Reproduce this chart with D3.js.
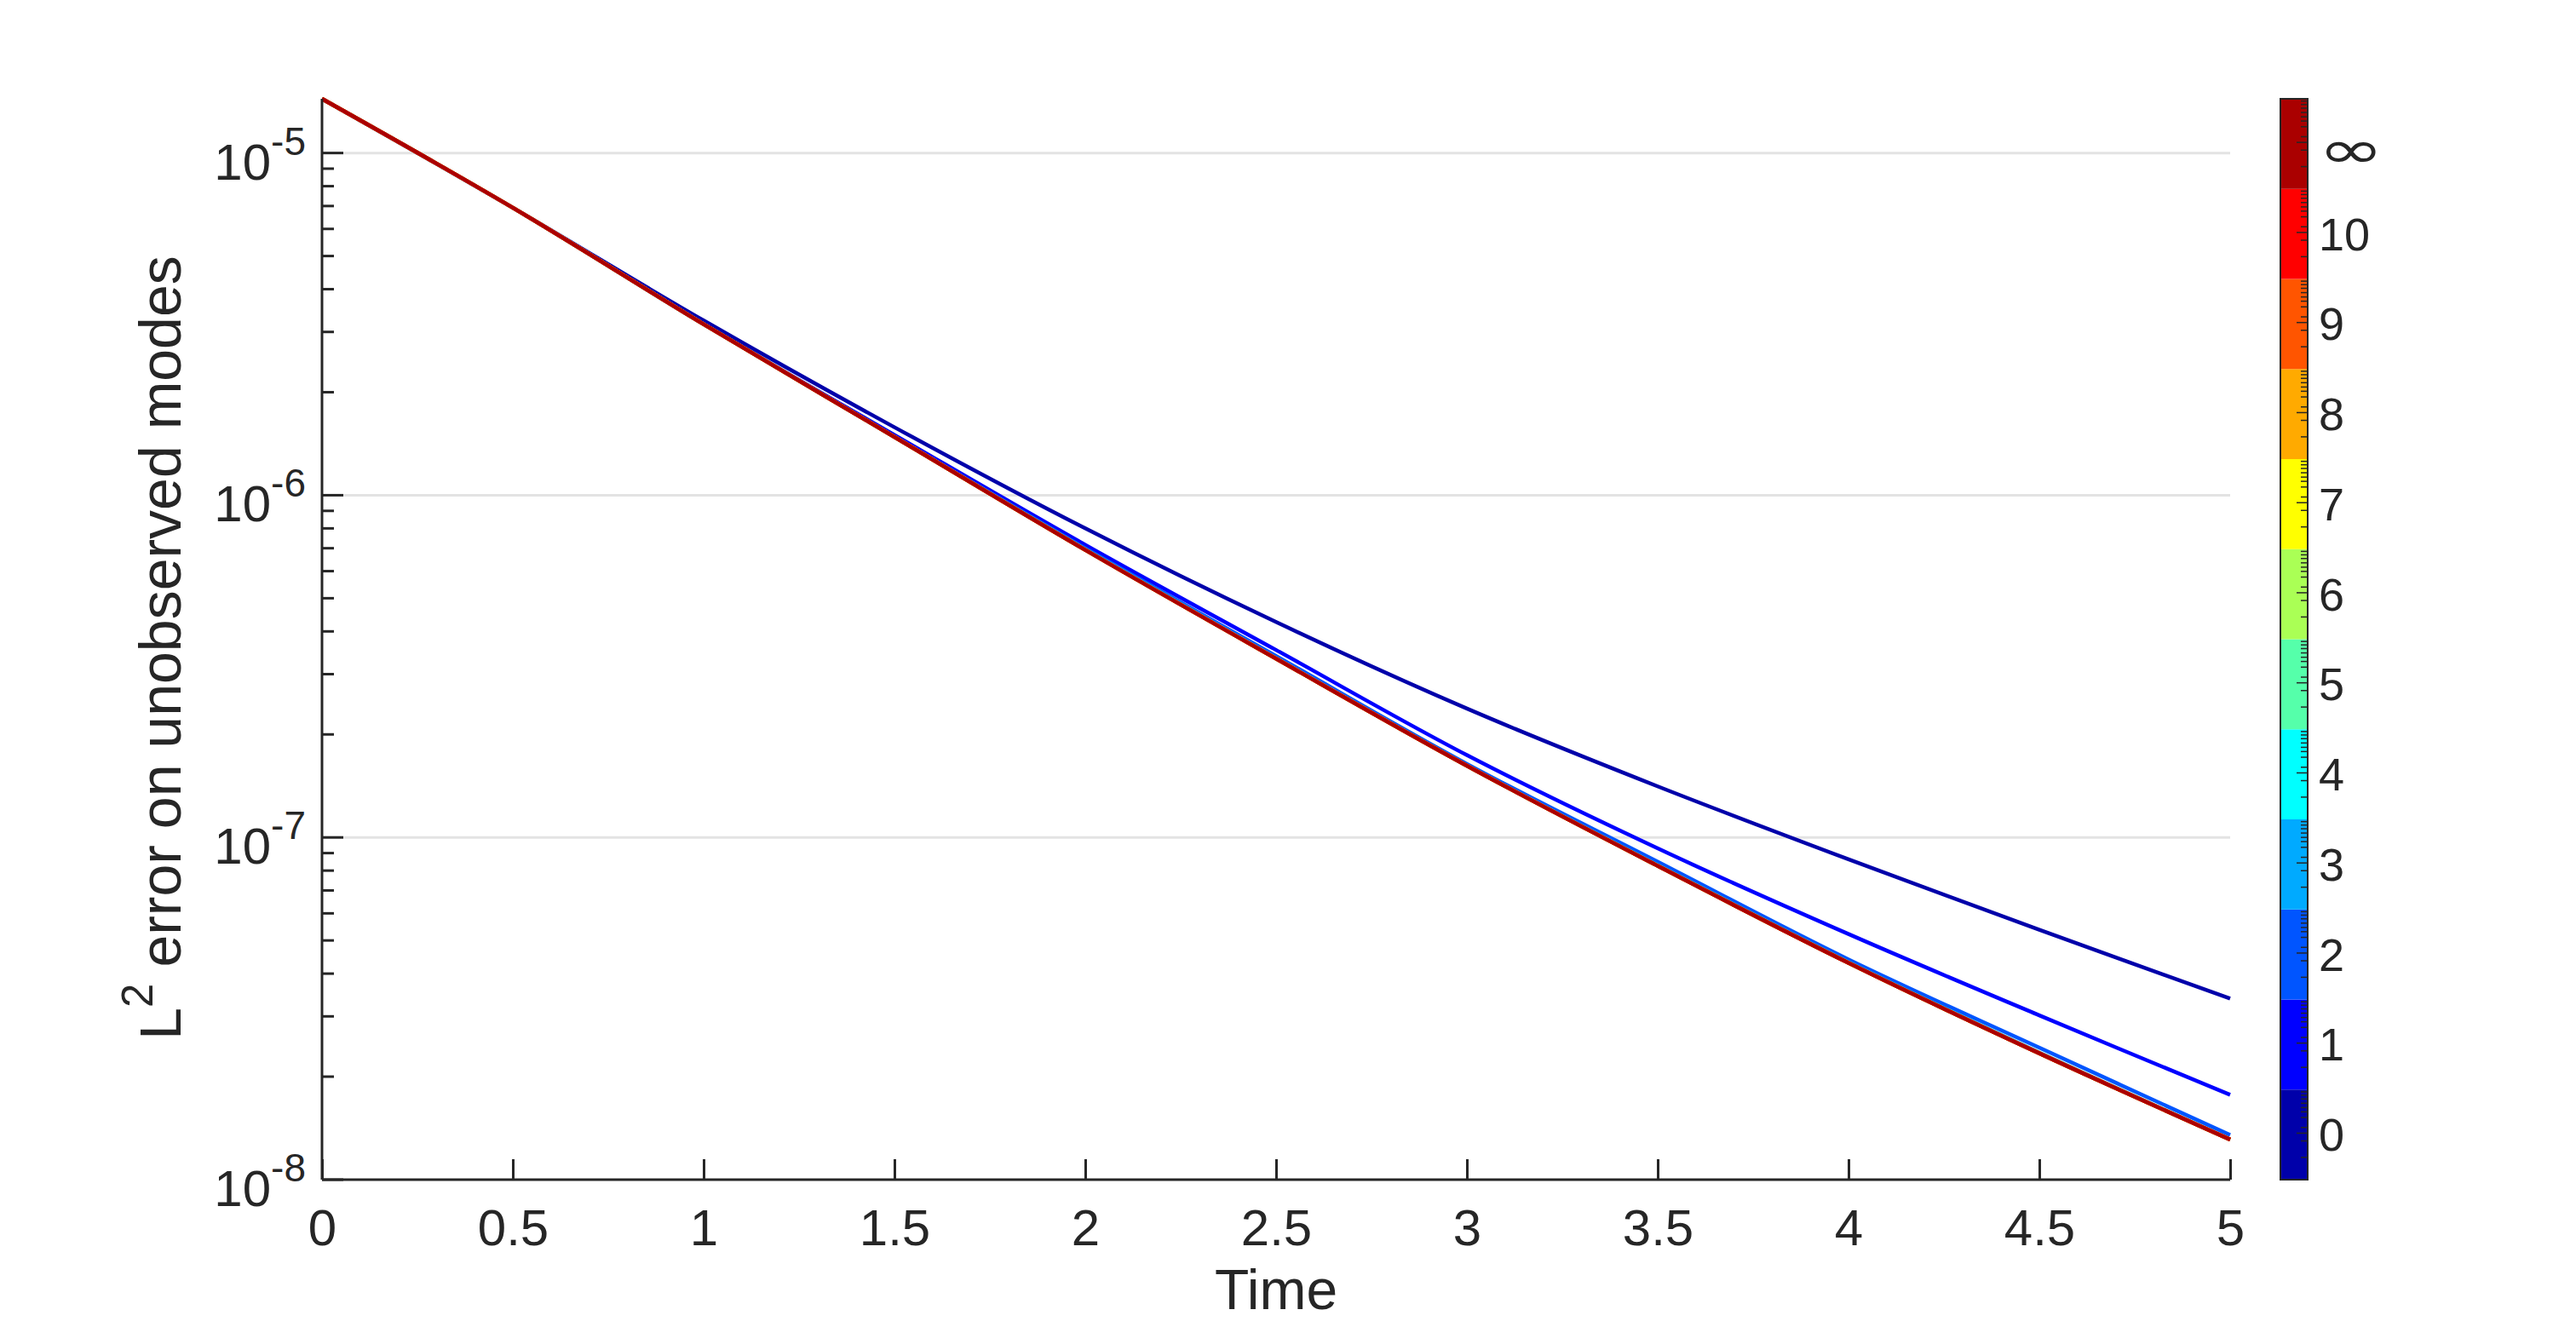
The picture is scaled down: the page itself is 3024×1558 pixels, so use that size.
<!DOCTYPE html>
<html>
<head>
<meta charset="utf-8">
<script src="https://cdn.jsdelivr.net/npm/d3@7"></script>
<style>
  html, body { margin: 0; padding: 0; background: #ffffff; }
  svg { display: block; }
</style>
</head>
<body>
<svg id="chart" width="3024" height="1558"></svg>
<script>
// ---------------- DATA ----------------
const time = [0, 0.5, 1, 1.5, 2, 2.5, 3, 3.5, 4, 4.5, 5];

const err0   = [1.44e-5, 6.92e-6, 3.24e-6, 1.58e-6, 8.00e-7, 4.26e-7, 2.38e-7, 1.41e-7, 8.63e-8, 5.37e-8, 3.38e-8];
const err1   = [1.44e-5, 6.92e-6, 3.16e-6, 1.50e-6, 7.16e-7, 3.53e-7, 1.74e-7, 9.29e-8, 5.22e-8, 3.02e-8, 1.77e-8];
const err2   = [1.44e-5, 6.92e-6, 3.16e-6, 1.48e-6, 7.00e-7, 3.39e-7, 1.64e-7, 8.49e-8, 4.40e-8, 2.43e-8, 1.35e-8];
const err3   = [1.44e-5, 6.92e-6, 3.16e-6, 1.48e-6, 6.94e-7, 3.34e-7, 1.62e-7, 8.30e-8, 4.32e-8, 2.35e-8, 1.31e-8];
const err4   = [1.44e-5, 6.92e-6, 3.16e-6, 1.48e-6, 6.92e-7, 3.33e-7, 1.62e-7, 8.26e-8, 4.30e-8, 2.34e-8, 1.31e-8];
const err5   = [1.44e-5, 6.92e-6, 3.16e-6, 1.48e-6, 6.92e-7, 3.33e-7, 1.62e-7, 8.26e-8, 4.30e-8, 2.34e-8, 1.31e-8];
const err6   = [1.44e-5, 6.92e-6, 3.16e-6, 1.48e-6, 6.92e-7, 3.33e-7, 1.62e-7, 8.26e-8, 4.30e-8, 2.34e-8, 1.31e-8];
const err7   = [1.44e-5, 6.92e-6, 3.16e-6, 1.48e-6, 6.92e-7, 3.33e-7, 1.62e-7, 8.26e-8, 4.30e-8, 2.34e-8, 1.31e-8];
const err8   = [1.44e-5, 6.92e-6, 3.16e-6, 1.48e-6, 6.92e-7, 3.33e-7, 1.62e-7, 8.26e-8, 4.30e-8, 2.34e-8, 1.31e-8];
const err9   = [1.44e-5, 6.92e-6, 3.16e-6, 1.48e-6, 6.92e-7, 3.33e-7, 1.62e-7, 8.26e-8, 4.30e-8, 2.34e-8, 1.31e-8];
const err10  = [1.44e-5, 6.92e-6, 3.16e-6, 1.48e-6, 6.92e-7, 3.33e-7, 1.62e-7, 8.26e-8, 4.30e-8, 2.34e-8, 1.31e-8];
const errInf = [1.44e-5, 6.92e-6, 3.16e-6, 1.48e-6, 6.92e-7, 3.33e-7, 1.62e-7, 8.26e-8, 4.30e-8, 2.34e-8, 1.31e-8];

const seriesLabels = ["0", "1", "2", "3", "4", "5", "6", "7", "8", "9", "10", "\u221E"];
const seriesValues = [err0, err1, err2, err3, err4, err5, err6, err7, err8, err9, err10, errInf];
const seriesColors = ["#0000aa", "#0000ff", "#0055ff", "#00aaff", "#00ffff", "#55ffaa",
                      "#aaff55", "#ffff00", "#ffaa00", "#ff5500", "#ff0000", "#aa0000"];

const xTicks = [0, 0.5, 1, 1.5, 2, 2.5, 3, 3.5, 4, 4.5, 5];
const yMajorExp = [-8, -7, -6, -5];
const yDomain = [1e-8, 1.44e-5];
// colorbar in-band tick fractions (from bottom of each band)
const cbMinorFrac = [0.247, 0.43, 0.579, 0.69, 0.753, 0.80, 0.848, 0.896, 0.937, 0.975];
const cbMajorFrac = 0.516;

// ---------------- LAYOUT ----------------
const L = 378, R = 2618, T = 116, B = 1385;
const ink = "#262626";
const font = "'Liberation Sans', Arial, Helvetica, sans-serif";

const svg = d3.select("#chart");
const x = d3.scaleLinear().domain([0, 5]).range([L, R]);
const y = d3.scaleLog().domain(yDomain).range([B, T]);

// grid lines
svg.append("g").selectAll("line")
  .data(yMajorExp.filter(e => e > -8))
  .join("line")
  .attr("x1", L).attr("x2", R)
  .attr("y1", e => y(Math.pow(10, e))).attr("y2", e => y(Math.pow(10, e)))
  .attr("stroke", "#e3e3e3").attr("stroke-width", 3);

// data lines
const line = d3.line()
  .x((d, i) => x(time[i]))
  .y(d => y(d))
  .curve(d3.curveCatmullRom.alpha(0.5));

svg.append("g").selectAll("path")
  .data(seriesValues)
  .join("path")
  .attr("d", d => line(d))
  .attr("fill", "none")
  .attr("stroke", (d, i) => seriesColors[i])
  .attr("stroke-width", 4.5)
  .attr("stroke-linejoin", "round");

// x axis
const xAxis = d3.axisBottom(x).tickValues(xTicks).tickSize(-24).tickPadding(0)
  .tickFormat(d => String(d));
const gx = svg.append("g").attr("transform", `translate(0,${B})`).call(xAxis);
gx.select(".domain").attr("d", `M${L},0H${R}`).attr("stroke", ink).attr("stroke-width", 3);
gx.selectAll(".tick line").attr("stroke", ink).attr("stroke-width", 3);
gx.selectAll(".tick text")
  .attr("y", 77).attr("dy", null)
  .attr("fill", ink).attr("font-size", 60).attr("font-family", font);

// y axis (log) with minor ticks
const minorVals = [];
for (let e = -8; e <= -5; e++) {
  for (let m = 2; m <= 9; m++) {
    const v = m * Math.pow(10, e);
    if (v <= yDomain[1]) minorVals.push(v);
  }
}
const gy = svg.append("g").attr("transform", `translate(${L},0)`);
gy.append("line").attr("x1", 0).attr("x2", 0).attr("y1", T).attr("y2", B)
  .attr("stroke", ink).attr("stroke-width", 3);
gy.selectAll("line.minor").data(minorVals).join("line").attr("class", "minor")
  .attr("x1", 0).attr("x2", 14).attr("y1", d => y(d)).attr("y2", d => y(d))
  .attr("stroke", ink).attr("stroke-width", 3);
gy.selectAll("line.major").data(yMajorExp).join("line").attr("class", "major")
  .attr("x1", 0).attr("x2", 25).attr("y1", e => y(Math.pow(10, e))).attr("y2", e => y(Math.pow(10, e)))
  .attr("stroke", ink).attr("stroke-width", 3);
const yl = gy.selectAll("text.ylab").data(yMajorExp).join("text").attr("class", "ylab")
  .attr("x", -19).attr("y", e => y(Math.pow(10, e)) + 31)
  .attr("text-anchor", "end").attr("fill", ink).attr("font-family", font).attr("font-size", 60);
yl.append("tspan").text("10");
yl.append("tspan").attr("font-size", 46).attr("dy", -29).text(e => "-" + Math.abs(e));

// axis labels
svg.append("text")
  .attr("x", (L + R) / 2).attr("y", 1537)
  .attr("text-anchor", "middle").attr("fill", ink).attr("font-family", font).attr("font-size", 66)
  .text("Time");

const ylab = svg.append("text")
  .attr("transform", `translate(212,${(T + B) / 2 + 10}) rotate(-90)`)
  .attr("text-anchor", "middle").attr("fill", ink).attr("font-family", font).attr("font-size", 68);
ylab.append("tspan").text("L");
ylab.append("tspan").attr("font-size", 51).attr("dy", -33).text("2");
ylab.append("tspan").attr("dy", 33).text(" error on unobserved modes");

// colorbar
const cbL = 2677, cbR = 2709;
const cb = d3.scaleBand().domain(seriesLabels).range([B, T]).paddingInner(0).paddingOuter(0);
const gcb = svg.append("g");
gcb.selectAll("rect").data(seriesLabels).join("rect")
  .attr("x", cbL).attr("width", cbR - cbL)
  .attr("y", d => cb(d)).attr("height", cb.bandwidth())
  .attr("fill", (d, i) => seriesColors[i]);
const cbTicks = [];
seriesLabels.forEach(lab => {
  const bot = cb(lab) + cb.bandwidth();
  cbMinorFrac.forEach(f => cbTicks.push({ y: bot - f * cb.bandwidth(), len: 8 }));
  cbTicks.push({ y: bot - cbMajorFrac * cb.bandwidth(), len: 13 });
});
gcb.selectAll("line").data(cbTicks).join("line")
  .attr("x1", cbR).attr("x2", d => cbR - d.len)
  .attr("y1", d => d.y).attr("y2", d => d.y)
  .attr("stroke", ink).attr("stroke-width", 1.5);
gcb.append("rect").attr("x", cbL).attr("y", T).attr("width", cbR - cbL).attr("height", B - T)
  .attr("fill", "none").attr("stroke", ink).attr("stroke-width", 2);
const isInf = d => d === "\u221E";
gcb.selectAll("text").data(seriesLabels).join("text")
  .attr("transform", d => isInf(d)
      ? `translate(2721,${cb(d) + cb.bandwidth() / 2 + 28}) scale(1.5,1)`
      : `translate(2722,${cb(d) + cb.bandwidth() / 2 + 19})`)
  .attr("fill", ink)
  .attr("font-family", d => isInf(d) ? "'DejaVu Sans', sans-serif" : font)
  .attr("font-size", d => isInf(d) ? 62 : 54)
  .text(d => d);
</script>
</body>
</html>
